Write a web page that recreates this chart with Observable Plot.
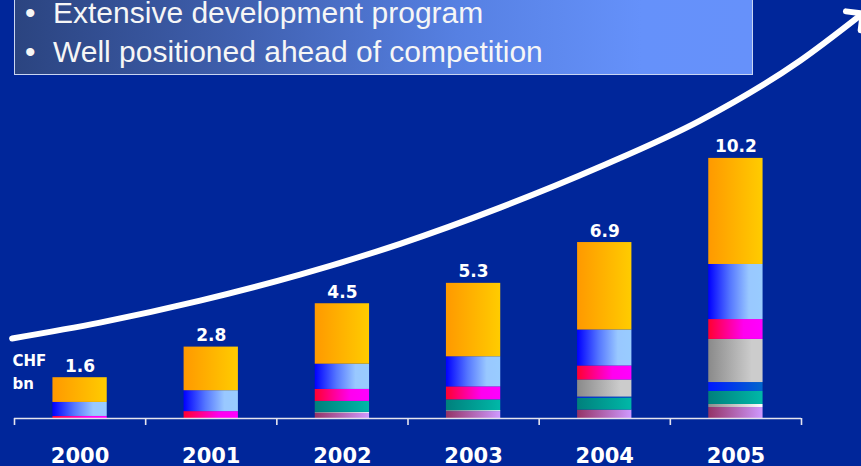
<!DOCTYPE html>
<html><head><meta charset="utf-8">
<script src="https://cdn.jsdelivr.net/npm/d3@7"></script>
<script src="https://cdn.jsdelivr.net/npm/@observablehq/plot@0.6"></script>
<style>
html,body{margin:0;padding:0;background:#00269a;width:861px;height:466px;overflow:hidden;}
#wrap{position:relative;width:861px;height:466px;}
#box{position:absolute;left:14px;top:-10px;width:737px;height:83px;border:1px solid #c9d5f2;
 background:linear-gradient(to right,#2b4480 0%,#3f5fae 30%,#5680e2 60%,#6591fa 85%,#6691fa 100%);}
.ln{position:absolute;font-family:"Liberation Sans",Arial,sans-serif;font-size:30px;line-height:20px;color:#f6f6f6;white-space:nowrap;}
#chart{position:absolute;left:0;top:0;}
</style></head>
<body><div id="wrap">
<div id="box"></div>
<div class="ln" style="left:25px;top:2.6px">•</div>
<div class="ln" style="left:53px;top:2.6px">Extensive development program</div>
<div class="ln" style="left:25px;top:41.6px">•</div>
<div class="ln" style="left:53px;top:41.6px">Well positioned ahead of competition</div>
<div id="chart"></div>
</div>
<script>
// ---- data ----
const years = [2000, 2001, 2002, 2003, 2004, 2005];
const totals = [1.6, 2.8, 4.5, 5.3, 6.9, 10.2];
const unitLabel = "CHF\nbn";
// segment series, stacked bottom to top (CHF bn)
const seriesNames = ["Product H", "Product G", "Product F", "Product E", "Product D", "Product C", "Product B", "Product A"];
const productH = [0, 0, 0.20, 0.27, 0.33, 0.43];
const productG = [0, 0, 0.04, 0.04, 0, 0.12];
const productF = [0, 0, 0.43, 0.42, 0.47, 0.51];
const productE = [0, 0, 0, 0, 0.04, 0.35];
const productD = [0, 0, 0, 0, 0.67, 1.69];
const productC = [0.08, 0.27, 0.47, 0.51, 0.55, 0.78];
const productB = [0.55, 0.82, 0.99, 1.18, 1.41, 2.16];
const productA = [0.97, 1.71, 2.37, 2.88, 3.43, 4.16];
// growth arrow trend points (year position, CHF bn)
const trendYear = [1999.482, 2000.152, 2000.915, 2001.677, 2002.440, 2003.202, 2003.964, 2004.727, 2005.489, 2005.931];
const trendValue = [3.14, 3.76, 4.62, 5.64, 6.85, 8.27, 9.87, 11.68, 14.03, 15.74];

// ---- styles ----
const seriesValues = [productH, productG, productF, productE, productD, productC, productB, productA];
const gradients = {
  "Product H": [["0", "#943366"], ["1", "#cf99ff"]],
  "Product G": [["0", "#8c8c8c"], ["1", "#ffffff"]],
  "Product F": [["0", "#00807c"], ["1", "#00b8a8"]],
  "Product E": [["0", "#0018ff"], ["1", "#0066cc"]],
  "Product D": [["0", "#8a8a8a"], ["0.8", "#cccccc"], ["1", "#cccccc"]],
  "Product C": [["0", "#ff0030"], ["0.65", "#ff00ee"], ["1", "#ff00ff"]],
  "Product B": [["0", "#0000ff"], ["0.4", "#5577ff"], ["0.75", "#99c8ff"], ["1", "#99ccff"]],
  "Product A": [["0", "#ff9900"], ["1", "#ffcc00"]]
};
const gid = name => "g" + name.replace(/\W/g, "");

const rows = [];
years.forEach((yr, i) => {
  let base = 0;
  seriesNames.forEach((s, k) => {
    const v = seriesValues[k][i];
    if (v > 0) rows.push({year: yr, series: s, y1: base, y2: base + v});
    base += v;
  });
});
const totalRows = years.map((yr, i) => ({year: yr, total: totals[i]}));
const trend = trendYear.map((x, i) => ({x, y: trendValue[i]}));
const boundaries = d3.range(years.length + 1).map(i => years[0] - 0.5 + i);
const halfW = 0.207;
const boldFont = "DejaVu Sans, Liberation Sans, sans-serif";

const chart = Plot.plot({
  width: 861, height: 466,
  marginLeft: 14, marginRight: 60, marginTop: 10, marginBottom: 48,
  x: {domain: [years[0] - 0.5, years[years.length - 1] + 0.5]},
  y: {domain: [0, 16], axis: null},
  color: {type: "identity"},
  style: {background: "transparent", overflow: "visible"},
  marks: [
    Plot.rect(rows, {x1: d => d.year - halfW, x2: d => d.year + halfW, y1: "y1", y2: "y2",
      fill: d => `url(#${gid(d.series)})`}),
    Plot.ruleY([0], {stroke: "#e4e4ee", strokeWidth: 1.6}),
    Plot.axisX(boundaries, {tickSize: 7, tickFormat: () => "", label: null, stroke: "#e4e4ee", strokeWidth: 1.6}),
    Plot.text(years, {x: d => d, frameAnchor: "bottom", dy: 44, lineAnchor: "bottom", text: d => String(d),
      fontSize: 21, fontWeight: "bold", fontFamily: boldFont, fill: "white"}),
    Plot.text(totalRows, {x: "year", y: "total", dy: -6, lineAnchor: "bottom", text: d => d.total.toFixed(1),
      fontSize: 17, fontWeight: "bold", fontFamily: boldFont, fill: "white"}),
    Plot.text([unitLabel], {frameAnchor: "bottom-left", dx: -2, dy: -30, textAnchor: "start", lineAnchor: "bottom",
      lineHeight: 1.53, fontSize: 15, fontWeight: "bold", fontFamily: boldFont, fill: "white"}),
    Plot.line(trend, {x: "x", y: "y", curve: "monotone-x", stroke: "white", strokeWidth: 6, markerEnd: "arrow"})
  ]
});
const defs = d3.select(chart).insert("defs", ":first-child");
seriesNames.forEach(s => {
  const g = defs.append("linearGradient").attr("id", gid(s)).attr("x1", 0).attr("x2", 1).attr("y1", 0).attr("y2", 0);
  gradients[s].forEach(([o, c]) => g.append("stop").attr("offset", o).attr("stop-color", c));
});
document.getElementById("chart").append(chart);
</script>
</body></html>
